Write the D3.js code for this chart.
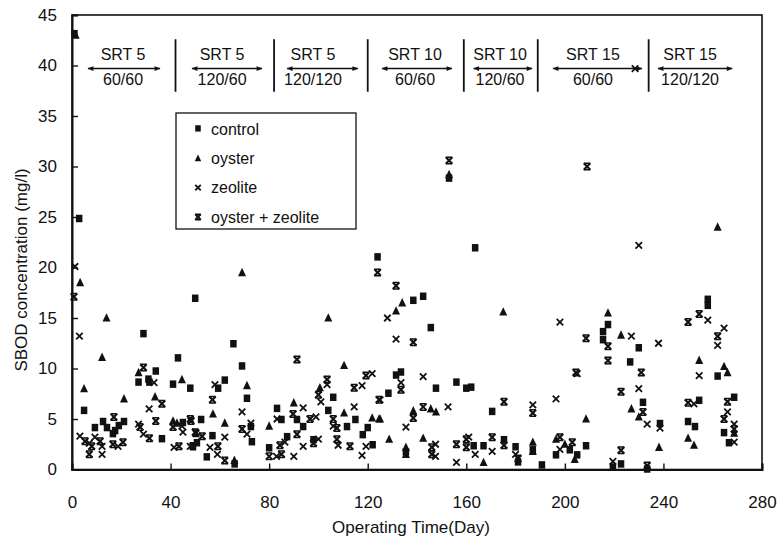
<!DOCTYPE html>
<html>
<head>
<meta charset="utf-8">
<script src="https://cdn.jsdelivr.net/npm/d3@7"></script>
<style>
  body { margin: 0; background: #fff; }
  svg text { font-family: "Liberation Sans", Arial, sans-serif; fill: #111; }
</style>
</head>
<body>
<div class="container"></div>
<script>
// ---- data: [day, mg/l] ----
var control = [[1,43.2],[2.9,24.9],[29,13.5],[50,17.0],[124,21.1],[65.5,12.5],[153,28.9],[163.6,22.0],[138.5,16.8],[142.5,17.2],
  [145.6,14.1],[258,16.9],[258,16.3],[217.5,14.4],[215.5,13.7],[215.5,12.9],[230,12.1],[226.5,10.7],[262,9.3],[231.7,6.7],
  [254.5,6.9],[268.7,7.2],[250,4.8],[252.8,4.3],[238.6,4.6],[264.6,3.7],[208.6,2.4],[266.6,2.7],[222.8,0.6],[219.5,0.3],
  [233.4,0.1],[131.5,9.4],[133.5,9.7],[156,8.7],[160,8.1],[162,8.2],[147.7,8.1],[128.4,7.6],[170.5,5.8],[135.5,1.8],
  [163,2.4],[167,2.4],[175.3,3.0],[180,2.3],[181,0.8],[187,2.0],[190.7,0.5],[196.4,1.5],[69,10.3],[48,8.1],
  [62,8.9],[59.3,8.1],[71,7.1],[52.4,5.0],[72.6,4.3],[73,2.8],[57,3.4],[49,2.4],[54.7,1.3],[66,0.6],
  [83.2,6.1],[85,5.0],[80,2.2],[87.3,3.3],[91.3,5.0],[93.8,4.3],[98,3.0],[106,7.2],[104,5.9],[115,5.0],
  [111.6,4.3],[118,3.5],[120,4.2],[122,2.5],[4.9,5.9],[9.3,4.2],[12.6,4.8],[14.2,4.2],[17.5,3.9],[21.1,4.8],
  [19,4.4],[16.6,3.6],[27,8.7],[31,9.0],[31.4,8.7],[34,9.8],[36.5,3.1],[43,11.1],[41,8.5],[45,4.7],
  [49.1,2.3],[50.7,2.7],[202,2.0],[205,1.5]];

var oyster = [[1.5,43],[3.3,18.5],[14,15.0],[69,19.5],[104,15.0],[153,29.2],[134,16.5],[131.5,15.7],[175,15.6],[262,24.0],
  [217.5,15.5],[222.8,13.3],[254.5,10.8],[264.6,10.2],[266,9.6],[227,6.0],[230,5.2],[208.6,5.0],[250,3.1],[252.4,2.4],
  [238.2,2.2],[268.7,3.6],[125,5.0],[145.6,6.0],[147.7,5.7],[138.5,5.8],[128.7,3.0],[142.5,3.1],[135.5,2.2],[135.5,1.5],
  [167,0.7],[187,2.7],[187,1.8],[196.4,3.0],[110.4,10.3],[71,8.3],[57.2,5.5],[62,4.6],[65.9,0.9],[80,4.3],
  [90,6.6],[100.6,8.1],[110.4,5.6],[121.8,5.1],[124.6,5.0],[12.2,11.1],[4.9,8.0],[21.1,7.0],[27,9.6],[33.7,7.2],
  [44.6,8.9],[41,4.8],[42.6,4.6],[200,2.5],[204,1.0]];

var zeolite = [[1.2,20.1],[3,13.2],[128,15.0],[131.5,12.9],[198,14.6],[230,22.2],[258,14.8],[227,13.2],[264.6,14.0],[238,12.5],
  [262,12.3],[205,9.5],[254.5,9.3],[230,8.0],[233.4,4.5],[252.4,6.5],[266,5.7],[268.7,4.5],[238.6,4.1],[268.7,2.7],
  [219.5,0.8],[133.5,8.6],[142.5,9.2],[125,6.9],[152.6,6.2],[135.5,4.2],[187,6.4],[196.4,7.0],[147.5,2.5],[147.5,1.3],
  [156,0.7],[161,3.2],[163.6,1.5],[170.5,1.8],[180,1.5],[198,2.0],[58,8.4],[69,5.7],[72.6,4.6],[71,3.5],
  [62,3.2],[56,2.2],[59,1.5],[83.2,5.0],[83,1.3],[86.4,2.7],[90,1.3],[93.8,6.1],[93.8,2.3],[99,5.2],
  [101,6.7],[103.5,8.4],[106,4.3],[114.5,6.2],[117.7,8.3],[121.8,9.5],[108,2.4],[117.7,1.4],[119.3,2.3],[100,3.0],
  [3.2,3.3],[7,2.6],[9.3,3.2],[12.2,2.3],[12.2,1.5],[18.7,2.3],[33.3,8.6],[31.3,6.0],[27,4.5],[29,3.5],
  [44.6,4.3],[45,3.7],[41.4,2.2],[48,2.3],[228.5,39.7]];

var oysterZeolite = [[0.8,17.1],[124,19.5],[153,30.6],[131.5,18.2],[138.5,12.6],[209,30.0],[254.5,15.4],[250,14.6],[208.6,13.0],[262,13.2],
  [217.5,12.2],[217.5,10.8],[231,9.6],[222.8,7.7],[231.7,5.7],[250,6.6],[266,6.7],[264.6,5.0],[268.7,4.0],[203,2.7],
  [222.8,1.9],[233.4,0.4],[133.5,7.9],[204.5,9.6],[142.5,6.2],[138.5,5.1],[175.3,6.7],[187,5.6],[146,2.2],[146,1.5],
  [156,2.5],[160,3.0],[160,2.2],[170.5,3.2],[175.3,2.4],[181,1.1],[198,3.2],[91.3,10.9],[57,6.9],[48,5.0],
  [69,4.0],[50.3,3.6],[52.8,3.3],[59.2,2.3],[62,0.9],[80,1.3],[85,1.5],[84.4,2.4],[89.7,5.5],[91.3,3.5],
  [96.6,5.0],[100,7.4],[103.5,8.9],[106,5.0],[107.5,4.1],[114.5,8.1],[119.3,9.3],[112.8,2.3],[107.5,3.0],[124.6,6.9],
  [98,2.6],[17,5.2],[5.3,2.8],[8,2.3],[11.4,2.8],[7,1.5],[16.6,2.5],[20.7,2.7],[29,10.1],[36.5,6.5],
  [34,4.8],[27.6,4.2],[31.4,3.1],[41,4.2],[48.3,4.8],[50,3.7],[43.4,2.3]];

// operating periods (top annotations)
var periodTop = ["SRT 5", "SRT 5", "SRT 5", "SRT 10", "SRT 10", "SRT 15", "SRT 15"];
var periodBottom = ["60/60", "120/60", "120/120", "60/60", "120/60", "60/60", "120/120"];
var periodFrom = [6.5, 48.7, 87.3, 125.8, 163, 195.2, 237.8];
var periodTo = [35.7, 77.1, 116, 154.2, 186.7, 231.3, 267.9];
var periodCenter = [20.7, 60.9, 97.8, 139.2, 173.7, 211.4, 250.8];
var periodBreaks = [42, 82, 120, 159, 189, 234];

var xTicks = [0, 40, 80, 120, 160, 200, 240, 280];
var yTicks = [0, 5, 10, 15, 20, 25, 30, 35, 40, 45];
var legendNames = ["control", "oyster", "zeolite", "oyster + zeolite"];

// ---- layout ----
var W = 779, H = 544;
var x = d3.scaleLinear().domain([0, 280]).range([72, 762]);
var y = d3.scaleLinear().domain([0, 45]).range([469.5, 15]);

var svg = d3.select(".container").append("svg")
    .attr("width", W).attr("height", H);

svg.append("defs").append("marker")
    .attr("id", "ah")
    .attr("viewBox", "0 0 10 10")
    .attr("refX", 9).attr("refY", 5)
    .attr("markerWidth", 8).attr("markerHeight", 6)
    .attr("markerUnits", "userSpaceOnUse")
    .attr("orient", "auto-start-reverse")
  .append("path")
    .attr("d", "M0,1 L10,5 L0,9 z")
    .attr("fill", "#111");

// frame
svg.append("rect")
    .attr("x", x(0)).attr("y", y(45))
    .attr("width", x(280) - x(0)).attr("height", y(0) - y(45))
    .attr("fill", "none").attr("stroke", "#111").attr("stroke-width", 1.6);

// axes, ticks point inwards
var xAxis = svg.append("g")
    .attr("transform", "translate(0," + y(0) + ")")
    .call(d3.axisBottom(x).tickValues(xTicks).tickSize(-6).tickPadding(26));
var yAxis = svg.append("g")
    .attr("transform", "translate(" + x(0) + ",0)")
    .call(d3.axisLeft(y).tickValues(yTicks).tickSize(-6).tickPadding(15));

[xAxis, yAxis].forEach(function (g) {
    g.select(".domain").attr("stroke", "#111").attr("stroke-width", 2);
    g.selectAll(".tick line").attr("stroke", "#111").attr("stroke-width", 1.4);
    g.selectAll(".tick text")
        .style("font-family", '"Liberation Sans", Arial, sans-serif')
        .style("font-size", "17px").attr("fill", "#111");
});

// axis titles
svg.append("text")
    .attr("x", 411).attr("y", 533)
    .attr("text-anchor", "middle")
    .style("font-size", "17px")
    .text("Operating Time(Day)");

svg.append("text")
    .attr("transform", "translate(27,270) rotate(-90)")
    .attr("text-anchor", "middle")
    .style("font-size", "17px")
    .text("SBOD concentration (mg/l)");

// ---- markers ----
function drawSquare(g, cx, cy, s) {
    g.append("rect").attr("x", cx - s / 2).attr("y", cy - s / 2)
        .attr("width", s).attr("height", s * 1.15).attr("fill", "#111");
}
function drawTri(g, cx, cy, s) {
    g.append("path")
        .attr("d", "M" + cx + "," + (cy - s * 0.6) + " L" + (cx + s * 0.5) + "," + (cy + s * 0.45) +
                   " L" + (cx - s * 0.5) + "," + (cy + s * 0.45) + " Z")
        .attr("fill", "#111");
}
function drawX(g, cx, cy, s, bars) {
    var h = s / 2;
    g.append("path")
        .attr("d", "M" + (cx - h) + "," + (cy - h) + " L" + (cx + h) + "," + (cy + h) +
                   " M" + (cx + h) + "," + (cy - h) + " L" + (cx - h) + "," + (cy + h))
        .attr("stroke", "#111").attr("stroke-width", bars ? 2.1 : 1.8).attr("fill", "none");
    if (bars) {
        g.append("path")
            .attr("d", "M" + (cx - h) + "," + (cy - h) + " H" + (cx + h) +
                       " M" + (cx - h) + "," + (cy + h) + " H" + (cx + h))
            .attr("stroke", "#111").attr("stroke-width", 1.5);
    }
}

var pts = svg.append("g");
control.forEach(function (d) { drawSquare(pts, x(d[0]), y(d[1]), 6.5); });
oyster.forEach(function (d) { drawTri(pts, x(d[0]), y(d[1]), 8); });
zeolite.forEach(function (d) { drawX(pts, x(d[0]), y(d[1]), 6.5, false); });
oysterZeolite.forEach(function (d) { drawX(pts, x(d[0]), y(d[1]), 6.5, true); });

// ---- period annotations ----
var ann = svg.append("g");
periodBreaks.forEach(function (b) {
    ann.append("line")
        .attr("x1", x(b)).attr("x2", x(b))
        .attr("y1", y(42.6)).attr("y2", y(37.4))
        .attr("stroke", "#111").attr("stroke-width", 1.8);
});
periodTop.forEach(function (t, i) {
    ann.append("line")
        .attr("x1", x(periodFrom[i])).attr("x2", x(periodTo[i]))
        .attr("y1", y(39.7)).attr("y2", y(39.7))
        .attr("stroke", "#111").attr("stroke-width", 1.4)
        .attr("marker-start", "url(#ah)").attr("marker-end", "url(#ah)");
    ann.append("text")
        .attr("x", x(periodCenter[i])).attr("y", y(41.1))
        .attr("dy", "0.35em").attr("text-anchor", "middle")
        .style("font-size", "16px").text(t);
    ann.append("text")
        .attr("x", x(periodCenter[i])).attr("y", y(38.6))
        .attr("dy", "0.35em").attr("text-anchor", "middle")
        .style("font-size", "16px").text(periodBottom[i]);
});

// ---- legend ----
var lg = svg.append("g");
lg.append("rect")
    .attr("x", 176).attr("y", 113).attr("width", 180).attr("height", 116)
    .attr("fill", "#fff").attr("stroke", "#111").attr("stroke-width", 1.3);
legendNames.forEach(function (n, i) {
    var ly = 129 + i * 29.3;
    if (i === 0) drawSquare(lg, 198, ly - 1, 5.5);
    if (i === 1) drawTri(lg, 198, ly, 6.5);
    if (i === 2) drawX(lg, 198, ly, 5.5, false);
    if (i === 3) drawX(lg, 198, ly, 5.5, true);
    lg.append("text")
        .attr("x", 211).attr("y", ly).attr("dy", "0.35em")
        .style("font-size", "16px").text(n);
});
</script>
</body>
</html>
